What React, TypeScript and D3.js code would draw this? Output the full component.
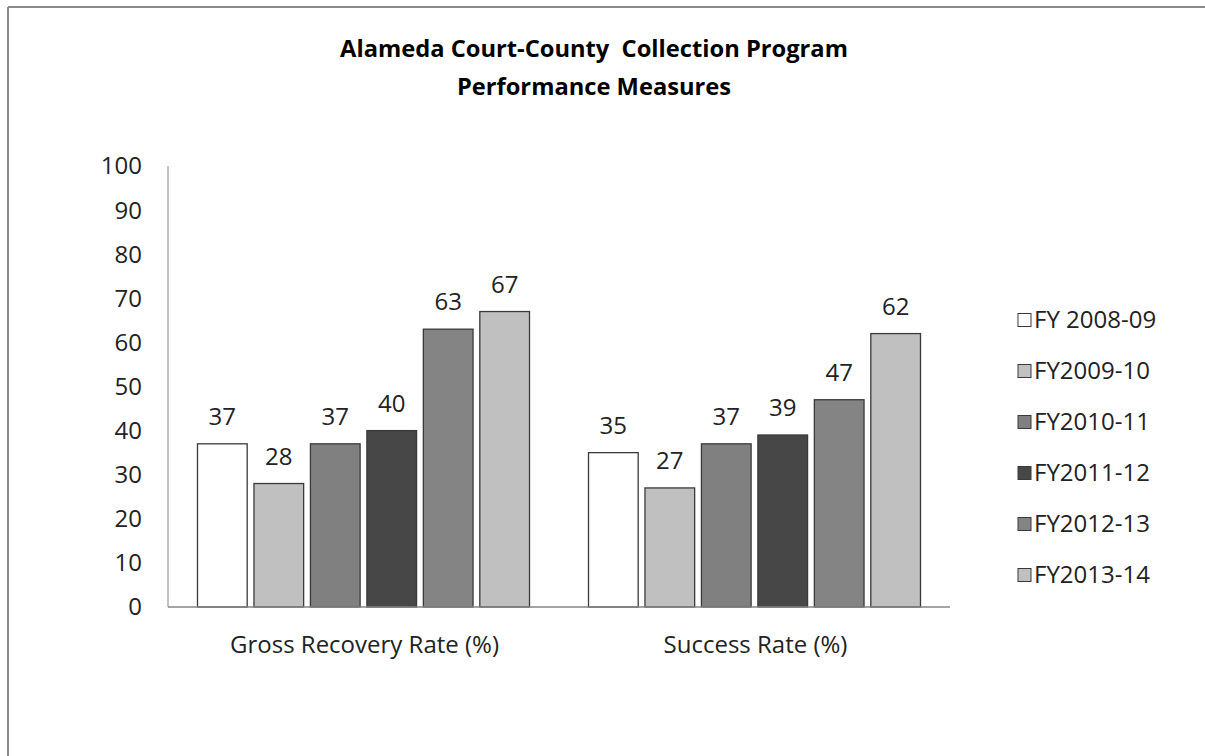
import React from "react";
import * as d3 from "d3";

const categories = ["Gross Recovery Rate (%)", "Success Rate (%)"];
const seriesNames = ["FY 2008-09", "FY2009-10", "FY2010-11", "FY2011-12", "FY2012-13", "FY2013-14"];
const grossRecovery = [37, 28, 37, 40, 63, 67];
const successRate = [35, 27, 37, 39, 47, 62];
const values = [grossRecovery, successRate];
const yTicks = [0, 10, 20, 30, 40, 50, 60, 70, 80, 90, 100];
const seriesColors = ["#ffffff", "#c0c0c0", "#808080", "#474747", "#848484", "#c0c0c0"];
const titleLines = ["Alameda Court-County  Collection Program", "Performance Measures"];

const FONT = "'Open Sans', Lato, sans-serif";

export default function App() {
  const left = 168, right = 950, top = 166, bottom = 607;
  const y = d3.scaleLinear().domain([0, 100]).range([bottom, top]);
  const x0 = d3.scaleBand<string>().domain(categories).range([left, right]).padding(0);
  const inner = 29.5;
  const x1 = d3
    .scaleBand<string>()
    .domain(seriesNames)
    .range([inner, x0.bandwidth() - inner])
    .paddingInner(0.12)
    .paddingOuter(0);

  const legendY = d3.scalePoint<string>().domain(seriesNames).range([320, 575]);

  return (
    <svg
      width={1205}
      height={756}
      style={{ position: "absolute", left: 0, top: 0, background: "#fff" }}
      fontFamily={FONT}
    >
      <rect x={0} y={0} width={1205} height={756} fill="#fff" />
      {/* outer chart border (cropped on right/bottom) */}
      <line x1={8} y1={7} x2={1205} y2={7} stroke="#8a8a8a" strokeWidth={2} />
      <line x1={8} y1={7} x2={8} y2={756} stroke="#8a8a8a" strokeWidth={2} />

      {/* title */}
      {titleLines.map((t, i) => (
        <text
          key={i}
          x={594}
          y={57 + i * 38}
          textAnchor="middle"
          fontWeight="bold"
          fontSize={23.7}
          fill="#000"
          style={{ whiteSpace: "pre" }}
        >
          {t}
        </text>
      ))}

      {/* y tick labels */}
      {yTicks.map((t) => (
        <text
          key={t}
          x={142}
          y={y(t)}
          dy="0.35em"
          textAnchor="end"
          fontSize={24}
          fill="#222"
        >
          {t}
        </text>
      ))}

      {/* bars */}
      {categories.map((c, ci) => (
        <g key={c} transform={`translate(${x0(c)},0)`}>
          {seriesNames.map((s, si) => {
            const v = values[ci][si];
            const bx = x1(s)!;
            return (
              <g key={s}>
                <rect
                  x={bx}
                  y={y(v)}
                  width={x1.bandwidth()}
                  height={bottom - y(v)}
                  fill={seriesColors[si]}
                  stroke="#3a3a3a"
                  strokeWidth={1.3}
                />
                <text
                  x={bx + x1.bandwidth() / 2}
                  y={y(v) - 19}
                  textAnchor="middle"
                  fontSize={24}
                  fill="#222"
                >
                  {v}
                </text>
              </g>
            );
          })}
        </g>
      ))}

      {/* axes */}
      <line x1={left} y1={top} x2={left} y2={bottom} stroke="#868686" strokeWidth={1} />
      <line x1={left} y1={bottom} x2={right} y2={bottom} stroke="#868686" strokeWidth={1.3} />

      {/* category labels */}
      {categories.map((c) => (
        <text
          key={c}
          x={x0(c)! + x0.bandwidth() / 2 + 1}
          y={653}
          textAnchor="middle"
          fontSize={24}
          fill="#222"
        >
          {c}
        </text>
      ))}

      {/* legend */}
      {seriesNames.map((s, i) => (
        <g key={s} transform={`translate(1018,${legendY(s)})`}>
          <rect x={0} y={-6.5} width={13} height={13} fill={seriesColors[i]} stroke="#3a3a3a" strokeWidth={1} />
          <text x={16} y={0} dy="0.35em" fontSize={24} fill="#222">
            {s}
          </text>
        </g>
      ))}
    </svg>
  );
}
